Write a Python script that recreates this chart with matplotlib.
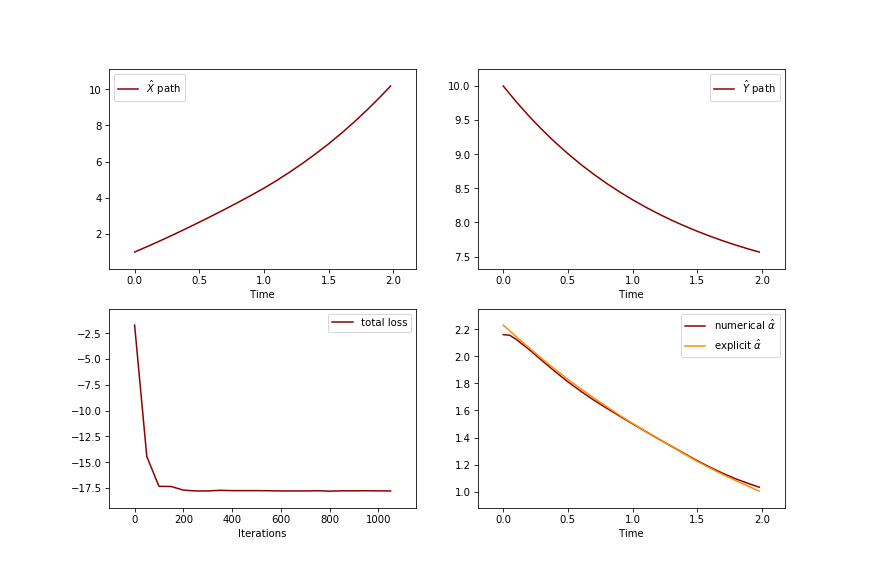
import matplotlib
matplotlib.use('Agg')
import matplotlib.pyplot as plt

# ---- data ----
t = [0.0, 0.1, 0.2, 0.3, 0.4, 0.5, 0.6, 0.7, 0.8, 0.9, 1.0,
     1.1, 1.2, 1.3, 1.4, 1.5, 1.6, 1.7, 1.8, 1.9, 1.98]
x_hat = [1.00, 1.31, 1.63, 1.96, 2.30, 2.65, 3.005, 3.37, 3.745, 4.13, 4.53,
         4.96, 5.42, 5.91, 6.43, 6.98, 7.57, 8.20, 8.87, 9.58, 10.18]
y_hat = [10.00, 9.77, 9.557, 9.36, 9.177, 9.008, 8.851, 8.706, 8.572, 8.448, 8.333,
         8.226, 8.127, 8.035, 7.95, 7.871, 7.798, 7.73, 7.667, 7.609, 7.566]

iters = list(range(0, 1051, 50))
loss = [-1.7, -14.45, -17.33, -17.35, -17.70, -17.78, -17.78, -17.72, -17.75, -17.75,
        -17.75, -17.76, -17.78, -17.78, -17.78, -17.76, -17.80, -17.77, -17.77, -17.76,
        -17.77, -17.78]

t_a = [0.0, 0.05, 0.1, 0.2, 0.3, 0.4, 0.5, 0.6, 0.7, 0.8, 0.9, 1.0,
       1.1, 1.2, 1.3, 1.4, 1.5, 1.6, 1.7, 1.8, 1.9, 1.98]
alpha_num = [2.160, 2.155, 2.125, 2.050, 1.968, 1.888, 1.812, 1.742, 1.677, 1.617, 1.559, 1.502,
             1.446, 1.391, 1.337, 1.283, 1.230, 1.181, 1.136, 1.095, 1.060, 1.034]
alpha_exp = [2.230, 2.188, 2.145, 2.062, 1.981, 1.904, 1.830, 1.760, 1.693, 1.628, 1.565, 1.505,
             1.447, 1.391, 1.336, 1.280, 1.225, 1.175, 1.127, 1.082, 1.040, 1.005]

plt.rcParams['axes.xmargin'] = 0.1
plt.rcParams['axes.ymargin'] = 0.1

fig, axs = plt.subplots(2, 2, figsize=(12, 8), dpi=72.67)
fig.subplots_adjust(left=0.125, right=0.9, bottom=0.126, top=0.88, wspace=0.2, hspace=0.2)

ax = axs[0, 0]
ax.plot(t, x_hat, color='darkred', label=r'$\hat{X}$ path')
ax.set_xlabel('Time')
ax.legend(loc='upper left')

ax = axs[0, 1]
ax.plot(t, y_hat, color='darkred', label=r'$\hat{Y}$ path')
ax.set_xlabel('Time')
ax.legend(loc='upper right')

ax = axs[1, 0]
ax.plot(iters, loss, color='darkred', label='total loss')
ax.set_xlabel('Iterations')
ax.legend(loc='upper right')

ax = axs[1, 1]
ax.plot(t_a, alpha_num, color='darkred', label=r'numerical $\hat{\alpha}$')
ax.plot(t_a, alpha_exp, color='darkorange', label=r'explicit $\hat{\alpha}$')
ax.set_xlabel('Time')
ax.legend(loc='upper right')

fig.savefig('out.png', dpi=72.67)
